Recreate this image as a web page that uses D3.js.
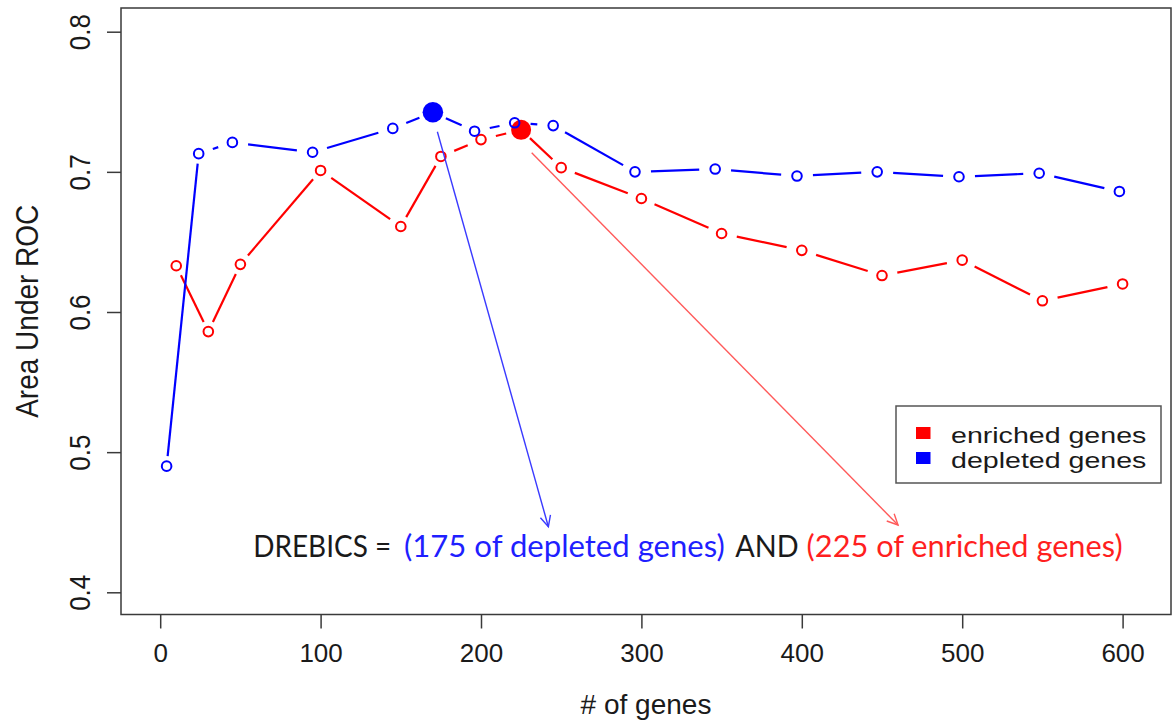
<!DOCTYPE html>
<html>
<head>
<meta charset="utf-8">
<script src="https://cdn.jsdelivr.net/npm/d3@7"></script>
<style>
  body { margin: 0; background: #fff; }
  svg { display: block; }
  text { font-family: "Liberation Sans", Arial, sans-serif; fill: #1a1a1a; }
  .note { font-family: Lato, "Open Sans", sans-serif; font-size: 31px; }
</style>
</head>
<body>
<svg id="chart" width="1172" height="725"></svg>
<script>
// # of genes vs. area under ROC
var enrichedGenes = [10, 30, 50, 100, 150, 175, 200, 225, 250, 300, 350, 400, 450, 500, 550, 600]
var enrichedAUC = [0.633, 0.586, 0.634, 0.701, 0.661, 0.711, 0.723, 0.730, 0.703, 0.681, 0.656, 0.644, 0.626, 0.637, 0.608, 0.620]
var depletedGenes = [4, 24, 45, 95, 145, 170, 196, 221, 245, 296, 346, 397, 447, 498, 548, 598]
var depletedAUC = [0.490, 0.713, 0.721, 0.714, 0.731, 0.7425, 0.729, 0.735, 0.733, 0.700, 0.702, 0.697, 0.700, 0.6965, 0.699, 0.686]
var enrichedPick = 7   // 225 genes
var depletedPick = 5   // 175 genes
var xTicks = [0, 100, 200, 300, 400, 500, 600]
var yTicks = [0.4, 0.5, 0.6, 0.7, 0.8]
var legendLabels = ["enriched genes", "depleted genes"]
var legendColors = ["#ff0000", "#0000ff"]
// arrows: from / to in data units
var arrows = [
  {from: [172.8, 0.7286], to: [242, 0.4468], color: "#3a3aff"},
  {from: [231.6, 0.7137], to: [460, 0.4480], color: "#ff5a5a"}
]
var notePieces = [
  {x: 58, x2: 144, text: "DREBICS =", color: "#1a1a1a"},
  {x: 152, x2: 352, text: "(175 of depleted genes)", color: "#1f1fff"},
  {x: 358.5, x2: 398, text: "AND", color: "#1a1a1a"},
  {x: 403, x2: 600, text: "(225 of enriched genes)", color: "#ff1f1f"}
]
var noteY = 0.4254

var box = {left: 121, right: 1171, top: 8, bottom: 614.5}

var x = d3.scaleLinear().domain([0, 600]).range([160.2, 1122.6])
var y = d3.scaleLinear().domain([0.4, 0.8]).range([592.3, 31.7])

var svg = d3.select("#chart")

// line segments with gaps around points (like R type="b")
function gapped(xs, ys) {
  var segs = []
  for (var i = 0; i < xs.length - 1; i++) {
    var x0 = x(xs[i]), y0 = y(ys[i]), x1 = x(xs[i + 1]), y1 = y(ys[i + 1])
    var dx = x1 - x0, dy = y1 - y0
    var f = 1 / Math.sqrt((dx / 16) * (dx / 16) + (dy / 10) * (dy / 10))
    if (f < 0.5) segs.push([x0 + f * dx, y0 + f * dy, x1 - f * dx, y1 - f * dy])
  }
  return segs
}

function drawSeries(xs, ys, color) {
  var g = svg.append("g")
  g.selectAll("line")
    .data(gapped(xs, ys))
    .enter().append("line")
    .attr("x1", function(d) { return d[0] })
    .attr("y1", function(d) { return d[1] })
    .attr("x2", function(d) { return d[2] })
    .attr("y2", function(d) { return d[3] })
    .attr("stroke", color)
    .attr("stroke-width", 2.2)
  g.selectAll("circle")
    .data(xs)
    .enter().append("circle")
    .attr("cx", function(d) { return x(d) })
    .attr("cy", function(d, i) { return y(ys[i]) })
    .attr("r", 4.8)
    .attr("fill", "none")
    .attr("stroke", color)
    .attr("stroke-width", 2)
}

drawSeries(enrichedGenes, enrichedAUC, "#ff0000")
svg.append("circle")
  .attr("cx", x(enrichedGenes[enrichedPick]))
  .attr("cy", y(enrichedAUC[enrichedPick]))
  .attr("r", 10)
  .attr("fill", "#ff0000")
drawSeries(depletedGenes, depletedAUC, "#0000ff")
svg.append("circle")
  .attr("cx", x(depletedGenes[depletedPick]))
  .attr("cy", y(depletedAUC[depletedPick]))
  .attr("r", 10.3)
  .attr("fill", "#0000ff")

// arrows
arrows.forEach(function(a) {
  var x0 = x(a.from[0]), y0 = y(a.from[1]), x1 = x(a.to[0]), y1 = y(a.to[1])
  var ang = Math.atan2(y1 - y0, x1 - x0)
  var len = 12, spread = Math.PI / 7
  var g = svg.append("g").attr("stroke", a.color).attr("stroke-width", 1.4).attr("fill", "none")
  g.append("line").attr("x1", x0).attr("y1", y0).attr("x2", x1).attr("y2", y1)
  g.append("path")
    .attr("d", "M" + (x1 - len * Math.cos(ang - spread)) + "," + (y1 - len * Math.sin(ang - spread)) +
      "L" + x1 + "," + y1 +
      "L" + (x1 - len * Math.cos(ang + spread)) + "," + (y1 - len * Math.sin(ang + spread)))
})

// plot box
svg.append("rect")
  .attr("x", box.left)
  .attr("y", box.top)
  .attr("width", box.right - box.left)
  .attr("height", box.bottom - box.top)
  .attr("fill", "none")
  .attr("stroke", "#3a3a3a")
  .attr("stroke-width", 1.5)

// axes
var xAxis = svg.append("g")
  .attr("transform", "translate(0," + box.bottom + ")")
  .call(d3.axisBottom(x).tickValues(xTicks).tickSize(14).tickPadding(15).tickFormat(d3.format("d")))
xAxis.select(".domain").remove()
xAxis.selectAll("line").attr("stroke", "#3a3a3a").attr("stroke-width", 1.5)
xAxis.selectAll("text")
  .style("font-family", "Liberation Sans, Arial, sans-serif")
  .style("font-size", "26px")
  .attr("fill", "#1a1a1a")

var yAxis = svg.append("g")
  .attr("transform", "translate(" + box.left + ",0)")
  .call(d3.axisLeft(y).tickValues(yTicks).tickSize(14).tickFormat(d3.format(".1f")))
yAxis.select(".domain").remove()
yAxis.selectAll("line").attr("stroke", "#3a3a3a").attr("stroke-width", 1.5)
yAxis.selectAll("text")
  .attr("x", 0).attr("dy", 0)
  .attr("text-anchor", "middle")
  .attr("transform", "translate(-31,0) scale(1.15,1) rotate(-90)")
  .style("font-family", "Liberation Sans, Arial, sans-serif")
  .style("font-size", "26px")
  .attr("fill", "#1a1a1a")

// axis titles
svg.append("text")
  .attr("x", (box.left + box.right) / 2)
  .attr("y", 714)
  .attr("text-anchor", "middle")
  .style("font-size", "28px")
  .text("# of genes")

svg.append("text")
  .attr("transform", "translate(38," + (box.top + box.bottom) / 2 + ") scale(1.1,1) rotate(-90)")
  .attr("text-anchor", "middle")
  .style("font-size", "28px")
  .text("Area Under ROC")

// legend
var legend = svg.append("g").attr("transform", "translate(896,406)")
legend.append("rect")
  .attr("width", 265).attr("height", 77)
  .attr("fill", "#fff")
  .attr("stroke", "#555")
  .attr("stroke-width", 1.5)
legendLabels.forEach(function(label, i) {
  legend.append("rect")
    .attr("x", 20).attr("y", 21 + i * 25)
    .attr("width", 14.5).attr("height", 12)
    .attr("fill", legendColors[i])
  legend.append("text")
    .attr("transform", "translate(55," + (37 + i * 25.3) + ") scale(1.27,1)")
    .style("font-size", "22.5px")
    .text(label)
})

// annotation
notePieces.forEach(function(p) {
  svg.append("text")
    .attr("class", "note")
    .attr("x", x(p.x))
    .attr("y", y(noteY))
    .attr("textLength", x(p.x2) - x(p.x))
    .attr("lengthAdjust", "spacingAndGlyphs")
    .style("fill", p.color)
    .text(p.text)
})
</script>
</body>
</html>
